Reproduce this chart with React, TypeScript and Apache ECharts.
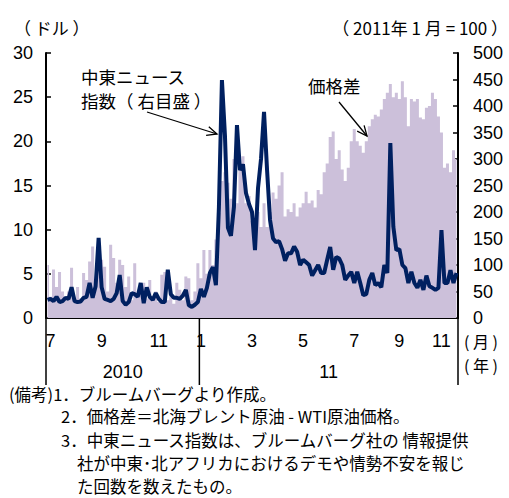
import { useEffect, useRef } from 'react';
import * as echarts from 'echarts';

// 価格差 (ドル, left axis), sampled along the axis
const spread = [
  6.0, 2.4, 5.5, 3.5, 5.2, 3.0, 2.0, 3.0, 5.7, 2.0,
  3.5, 2.2, 5.1, 4.3, 6.4, 8.1, 3.5, 6.0, 6.6, 5.8,
  3.0, 8.3, 6.8, 4.0, 6.6, 6.0, 3.5, 4.7, 2.0, 6.2,
  2.5, 4.0, 4.0, 2.2, 4.3, 2.0, 3.0, 1.8, 4.9, 5.2,
  2.0, 3.0, 1.6, 4.0, 3.2, 2.0, 4.7, 4.5, 2.0, 3.0,
  6.2, 4.5, 7.7, 5.0, 7.7, 6.0, 8.9, 11.9, 15.5, 16.5,
  15.3, 13.5, 18.0, 13.0, 16.8, 18.3, 13.0, 13.8, 11.0, 7.7,
  12.0, 10.3, 13.0, 10.3, 12.0, 14.2, 13.5, 15.0, 16.5, 11.5,
  12.3, 12.0, 13.0, 11.5, 12.5, 13.0, 14.3, 13.0, 13.3, 12.5,
  14.5, 14.0, 16.5, 17.5, 20.5, 21.1, 18.0, 19.0, 16.8, 15.5,
  17.0, 20.0, 21.4, 20.0, 19.5, 18.7, 20.0, 21.7, 22.5, 23.0,
  22.8, 23.6, 24.8, 25.5, 26.5, 25.0, 25.5, 24.8, 26.8, 25.0,
  21.7, 24.8, 24.5, 24.8, 22.7, 22.5, 23.8, 24.0, 25.5, 24.8,
  22.8, 21.0, 17.0, 17.5, 16.5, 19.0, 18.0,
];

// 中東ニュース指数 (2011年1月=100, right axis)
const newsIndex = [
  34, 36, 32, 40, 30, 32, 38, 36, 58, 32,
  30, 31, 38, 40, 66, 38, 60, 151, 58, 36,
  34, 32, 36, 47, 81, 32, 25, 30, 47, 45,
  40, 66, 28, 58, 40, 34, 47, 36, 30, 30,
  91, 45, 38, 38, 36, 42, 53, 24, 21, 25,
  30, 55, 40, 57, 85, 96, 62, 209, 449, 345,
  170, 155, 210, 364, 279, 290, 236, 215, 200, 128,
  245, 300, 389, 280, 185, 150, 143, 145, 130, 108,
  122, 122, 135, 125, 100, 110, 105, 100, 80, 90,
  100, 85, 85, 110, 134, 91, 115, 112, 100, 72,
  80, 87, 66, 87, 66, 43, 45, 72, 85, 62,
  66, 58, 100, 85, 330, 172, 128, 130, 100, 94,
  66, 87, 66, 57, 72, 53, 80, 60, 57, 53,
  57, 166, 66, 66, 90, 66, 85,
];

const monthTickIndex = [1, 18, 37, 51, 68, 85, 102, 117, 131];
const monthTickLabel = ['7', '9', '11', '1', '3', '5', '7', '9', '11'];
const yearLabels = ['2010', '11'];
const yearStartIndex = [0, 51];

const notes = [
  '(備考)1．ブルームバーグより作成。',
  '2．価格差＝北海ブレント原油 - WTI原油価格。',
  '3．中東ニュース指数は、ブルームバーグ社の 情報提供',
  '社が中東･北アフリカにおけるデモや情勢不安を報じ',
  'た回数を数えたもの。',
];

const NUM = '"Liberation Sans", Arial, "Noto Sans CJK JP", sans-serif';
const JP = '"Noto Sans CJK JP", sans-serif';

function arrow(x1: number, y1: number, x2: number, y2: number) {
  const dx = x2 - x1;
  const dy = y2 - y1;
  const len = Math.sqrt(dx * dx + dy * dy);
  const ux = dx / len;
  const uy = dy / len;
  const h = 10;
  const w = 4.5;
  const bx = x2 - ux * h;
  const by = y2 - uy * h;
  return [
    { type: 'line', shape: { x1, y1, x2, y2 }, style: { stroke: '#000', lineWidth: 1.3 }, z: 10 },
    {
      type: 'polyline',
      shape: { points: [[bx - uy * w, by + ux * w], [x2, y2], [bx + uy * w, by - ux * w]] },
      style: { stroke: '#000', lineWidth: 1.3, fill: 'none' },
      z: 10,
    },
  ];
}

function txt(text: string, x: number, y: number, fontSize: number, align = 'left', family = JP) {
  return {
    type: 'text',
    x,
    y,
    z: 10,
    style: { text, fontSize, fontFamily: family, fill: '#000', align, verticalAlign: 'middle' },
  };
}

export default function App() {
  const ref = useRef<HTMLDivElement>(null);
  useEffect(() => {
    document.body.style.margin = '0';
    const chart = echarts.init(ref.current!, null, { renderer: 'svg' });
    const cats = spread.map((_, i) => String(i));
    chart.setOption({
      animation: false,
      grid: { left: 46, right: 51, top: 53, bottom: 180 },
      xAxis: {
        type: 'category',
        data: cats,
        boundaryGap: true,
        axisLine: { lineStyle: { color: '#000', width: 2 } },
        axisTick: { show: false },
        splitLine: { show: false },
        axisLabel: {
          interval: (i: number) => monthTickIndex.includes(i),
          formatter: (_v: string, i: number) => {
            const k = monthTickIndex.indexOf(i);
            return k >= 0 ? monthTickLabel[k] : '';
          },
          fontSize: 18,
          color: '#000',
          fontFamily: NUM,
          margin: 14,
        },
      },
      yAxis: [
        {
          type: 'value',
          min: 0,
          max: 30,
          interval: 5,
          position: 'left',
          axisLine: { show: true, lineStyle: { color: '#000', width: 2 } },
          axisTick: { show: true, inside: true, length: 5, lineStyle: { color: '#000', width: 1.5 } },
          splitLine: { show: false },
          axisLabel: { fontSize: 18, color: '#000', fontFamily: NUM, margin: 13 },
        },
        {
          type: 'value',
          min: 0,
          max: 500,
          interval: 50,
          position: 'right',
          axisLine: { show: true, lineStyle: { color: '#000', width: 2 } },
          axisTick: { show: true, inside: true, length: 5, lineStyle: { color: '#000', width: 1.5 } },
          splitLine: { show: false },
          axisLabel: { fontSize: 18, color: '#000', fontFamily: NUM, margin: 15 },
        },
      ],
      series: [
        {
          name: '価格差',
          type: 'line',
          step: 'middle',
          data: spread,
          yAxisIndex: 0,
          symbol: 'none',
          lineStyle: { width: 0, color: '#ccc0da' },
          areaStyle: { color: '#ccc0da', opacity: 1 },
          silent: true,
          z: 1,
        },
        {
          name: '中東ニュース指数',
          type: 'line',
          data: newsIndex,
          yAxisIndex: 1,
          symbol: 'none',
          lineStyle: { color: '#002060', width: 4 },
          z: 3,
        },
      ],
    });

    const xAt = (i: number) => chart.convertToPixel({ xAxisIndex: 0 }, i) as number;
    const band = xAt(1) - xAt(0);
    const y0 = chart.convertToPixel({ yAxisIndex: 0 }, 0) as number;
    const bounds = [
      ...yearStartIndex.map((i) => xAt(i) - band / 2),
      xAt(spread.length - 1) + band / 2,
    ];
    const graphics: any[] = [];
    bounds.forEach((bx) => {
      graphics.push({
        type: 'line',
        shape: { x1: bx, y1: y0, x2: bx, y2: y0 + 67 },
        style: { stroke: '#000', lineWidth: 1.5 },
        z: 10,
      });
    });
    yearLabels.forEach((label, k) => {
      graphics.push(txt(label, (bounds[k] + bounds[k + 1]) / 2, y0 + 54, 18, 'center', NUM));
    });
    graphics.push(txt('( 月 )', 464, 341, 16));
    graphics.push(txt('( 年 )', 464, 365, 16));
    graphics.push(txt('（ ドル ）', 14, 27, 17));
    graphics.push(txt('（ 2011年 1 月 = 100 ）', 508, 27, 17, 'right'));
    graphics.push(txt('中東ニュース', 81, 76, 17.5));
    graphics.push(txt('指数（ 右目盛 ）', 81, 100, 17.5));
    graphics.push(txt('価格差', 308, 85, 17.5));
    graphics.push(...arrow(147, 112, 217, 134));
    graphics.push(...arrow(339, 102, 367, 136));
    const noteX = [9, 61, 61, 77, 77];
    const noteY = [394, 416, 440, 463, 486];
    notes.forEach((n, k) => graphics.push(txt(n, noteX[k], noteY[k], 16.5)));
    chart.setOption({ graphic: graphics });

    return () => chart.dispose();
  }, []);
  return <div ref={ref} style={{ width: 509, height: 498 }} />;
}
